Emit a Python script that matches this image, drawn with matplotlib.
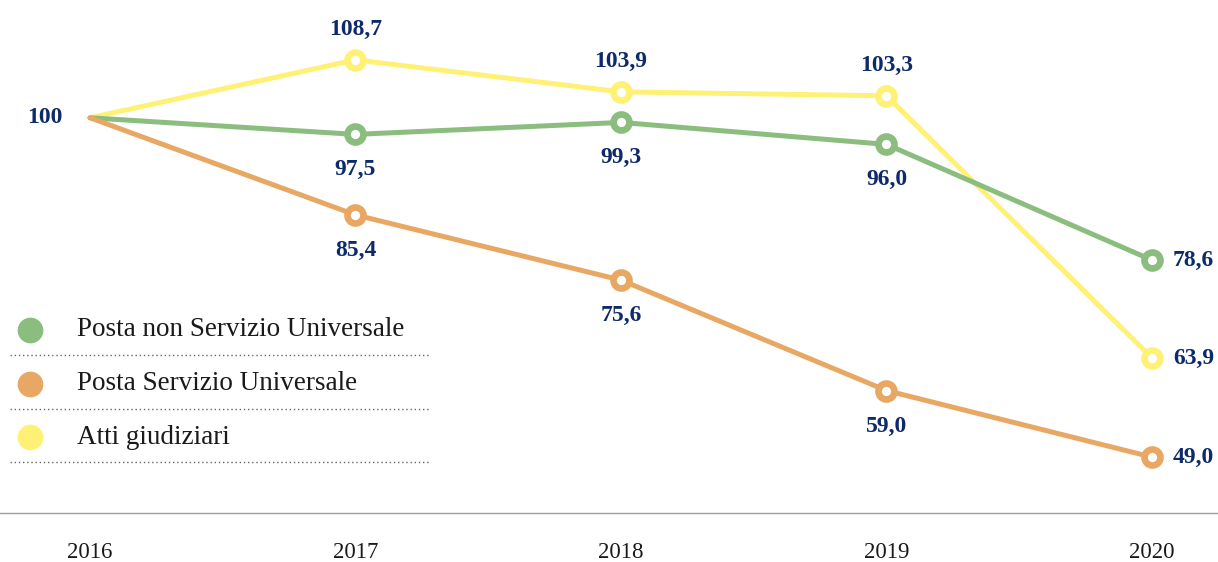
import matplotlib
matplotlib.use("Agg")
import matplotlib.pyplot as plt
from matplotlib.lines import Line2D

years = [2016, 2017, 2018, 2019, 2020]
non_su = [100, 97.5, 99.3, 96.0, 78.6]
su = [100, 85.4, 75.6, 59.0, 49.0]
atti = [100, 108.7, 103.9, 103.3, 63.9]

series_names = ["Posta non Servizio Universale", "Posta Servizio Universale", "Atti giudiziari"]

GREEN = "#8bbd7f"
ORANGE = "#e8a863"
YELLOW = "#fff176"
NAVY = "#0d2a6b"
FONT = ["Liberation Serif", "DejaVu Serif"]

plt.rcParams["font.family"] = FONT


def fmt(v):
    if v == 100:
        return "100"
    return f"{v:.1f}".replace(".", ",")


fig = plt.figure(figsize=(12.18, 5.62), dpi=100)
ax = fig.add_axes([0, 1 - 513 / 562, 1, 513 / 562])

# yellow underneath, then green, orange on top
for vals, col in [(atti, YELLOW), (non_su, GREEN), (su, ORANGE)]:
    ax.plot(years, vals, color=col, lw=3.6, solid_capstyle="round", zorder=2)
    ax.plot(years[1:], vals[1:], ls="none", marker="o", ms=11.5, mew=4.8,
            mec=col, mfc="white", zorder=3)

lab = dict(color=NAVY, fontsize=17, fontweight="bold", family=FONT)

ax.annotate("100", (years[0], 100), xytext=(-20, 0), textcoords="offset points",
            ha="right", va="center", **lab)

for x, v in zip(years[1:-1], atti[1:-1]):
    ax.annotate(fmt(v), (x, v), xytext=(0, 14), textcoords="offset points",
                ha="center", va="bottom", **lab)
for x, v in zip(years[1:-1], non_su[1:-1]):
    ax.annotate(fmt(v), (x, v), xytext=(0, -18), textcoords="offset points",
                ha="center", va="top", **lab)
for x, v in zip(years[1:-1], su[1:-1]):
    ax.annotate(fmt(v), (x, v), xytext=(0, -18), textcoords="offset points",
                ha="center", va="top", **lab)
for vals in (non_su, atti, su):
    ax.annotate(fmt(vals[-1]), (years[-1], vals[-1]), xytext=(15, 0),
                textcoords="offset points", ha="left", va="center", **lab)

ax.set_xlim(2016 - 90 / 265.5, 2020 + 66 / 265.5)
ax.set_ylim(40.6, 117.7)

for s in ["top", "left", "right"]:
    ax.spines[s].set_visible(False)
ax.spines["bottom"].set_color("#a0a0a0")
ax.spines["bottom"].set_linewidth(1.0)
ax.set_yticks([])
ax.set_xticks(years)
ax.set_xticklabels([str(y) for y in years])
ax.tick_params(axis="x", length=0, pad=21, labelsize=16.5, labelcolor="#1a1a1a")

# manual legend with dotted separators
leg_y = [330, 384, 437]
for name, col, py in zip(series_names, [GREEN, ORANGE, YELLOW], leg_y):
    fy = 1 - py / 562
    fig.add_artist(Line2D([30 / 1218], [fy], marker="o", ms=17.5, color=col,
                          mec=col, ls="none", transform=fig.transFigure))
    fig.text(77 / 1218, fy, name, fontsize=19.5, color="#1a1a1a",
             ha="left", va="center")
    sy = 1 - (py + 25) / 562
    fig.add_artist(Line2D([10 / 1218, 430 / 1218], [sy, sy], color="#666666",
                          lw=1.0, ls=(0, (1, 2)), transform=fig.transFigure))

fig.savefig("out.png", dpi=100)
